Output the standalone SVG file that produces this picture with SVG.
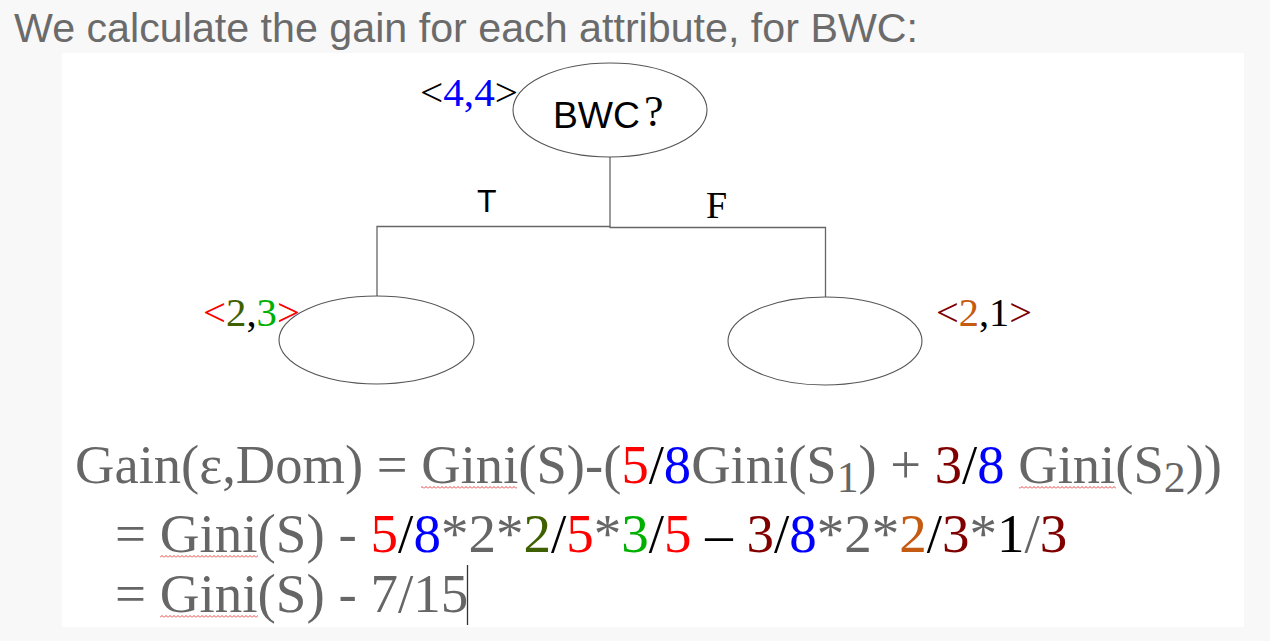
<svg xmlns="http://www.w3.org/2000/svg" width="1270" height="641" viewBox="0 0 1270 641">
<style>
.hdr{font-family:"Liberation Sans",Arial,sans-serif;font-size:41px;fill:#6b6b6b}
.sans{font-family:"Liberation Sans",Arial,sans-serif;fill:#000}
.ser{font-family:"Liberation Serif","Times New Roman",serif}
.node{fill:#fff;stroke:#555;stroke-width:1.1}
.conn{fill:none;stroke:#666;stroke-width:1.3}
.f{font-family:"Liberation Serif","Times New Roman",serif;font-size:55px;fill:#666}
.sub{font-size:44px}
.r{fill:#ff0000}.b{fill:#0000ff}.k{fill:#000}.dr{fill:#800000}.dg{fill:#3f6000}.g{fill:#00b000}.o{fill:#c55a11}.gr{fill:#666}
.cnt{font-size:41px}
</style>
<defs>
<pattern id="wave" width="4" height="3" patternUnits="userSpaceOnUse">
<path d="M0,2.5 L2,0.5 L4,2.5" fill="none" stroke="#e03030" stroke-width="0.9"/>
</pattern>
</defs>
<rect x="0" y="0" width="1270" height="641" fill="#f8f8f8"/>
<rect x="62" y="53" width="1182" height="574" fill="#fff"/>
<text class="hdr" x="14" y="42" textLength="904" lengthAdjust="spacingAndGlyphs">We calculate the gain for each attribute, for BWC:</text>

<g id="connectors">
<polyline class="conn" points="610,157 610,226.5 377,226.5 377,296"/>
<polyline class="conn" points="610,226.5 610,227.5 825.5,227.5 825.5,297"/>
<text class="sans" x="477" y="212" font-size="32">T</text>
<text class="ser" x="706" y="218" font-size="38" fill="#000">F</text>
</g>

<g id="root">
<ellipse class="node" cx="610" cy="110" rx="97" ry="47"/>
<text class="sans" x="553" y="128" font-size="36" textLength="87" lengthAdjust="spacingAndGlyphs">BWC</text>
<text class="ser" x="644" y="126" font-size="44" fill="#000">?</text>
<text class="ser cnt" x="420" y="106" textLength="98" lengthAdjust="spacingAndGlyphs"><tspan class="k">&lt;</tspan><tspan class="b">4,4</tspan><tspan class="k">&gt;</tspan></text>
</g>

<g id="left">
<ellipse class="node" cx="376.5" cy="340" rx="97.5" ry="44"/>
<text class="ser cnt" x="203" y="326" textLength="97" lengthAdjust="spacingAndGlyphs"><tspan class="r">&lt;</tspan><tspan class="dg">2</tspan><tspan class="k">,</tspan><tspan class="g">3</tspan><tspan class="r">&gt;</tspan></text>
</g>

<g id="right">
<ellipse class="node" cx="825" cy="341" rx="97" ry="44"/>
<text class="ser cnt" x="936" y="326" textLength="96" lengthAdjust="spacingAndGlyphs"><tspan class="dr">&lt;</tspan><tspan class="o">2</tspan><tspan class="k">,1</tspan><tspan class="dr">&gt;</tspan></text>
</g>

<g id="formula">
<text class="f" x="75" y="483" textLength="1147" lengthAdjust="spacingAndGlyphs">Gain(ε,Dom) = Gini(S)-(<tspan class="r">5</tspan><tspan class="k">/</tspan><tspan class="b">8</tspan>Gini(S<tspan class="sub gr" dy="9">1</tspan><tspan dy="-9">) + </tspan><tspan class="dr">3</tspan><tspan class="k">/</tspan><tspan class="b">8</tspan> Gini(S<tspan class="sub gr" dy="9">2</tspan><tspan dy="-9">))</tspan></text>
<text class="f" x="115" y="552">= Gini(S) - <tspan class="r">5</tspan><tspan class="k">/</tspan><tspan class="b">8</tspan>*2*<tspan class="dg">2</tspan><tspan class="k">/</tspan><tspan class="r">5</tspan>*<tspan class="g">3</tspan><tspan class="k">/</tspan><tspan class="r">5</tspan><tspan class="k"> – </tspan><tspan class="dr">3</tspan><tspan class="k">/</tspan><tspan class="b">8</tspan>*2*<tspan class="o">2</tspan><tspan class="k">/</tspan><tspan class="dr">3</tspan>*<tspan class="k">1</tspan>/<tspan class="dr">3</tspan></text>
<text class="f" x="115" y="612">= Gini(S) - 7/15</text>
<rect x="421" y="486" width="96" height="3" fill="url(#wave)"/>
<rect x="1019" y="486" width="97" height="3" fill="url(#wave)"/>
<rect x="160" y="555" width="98" height="3" fill="url(#wave)"/>
<rect x="160" y="615" width="98" height="3" fill="url(#wave)"/>
<line x1="467.5" y1="565" x2="467.5" y2="625" stroke="#333" stroke-width="1.3"/>
</g>
</svg>
